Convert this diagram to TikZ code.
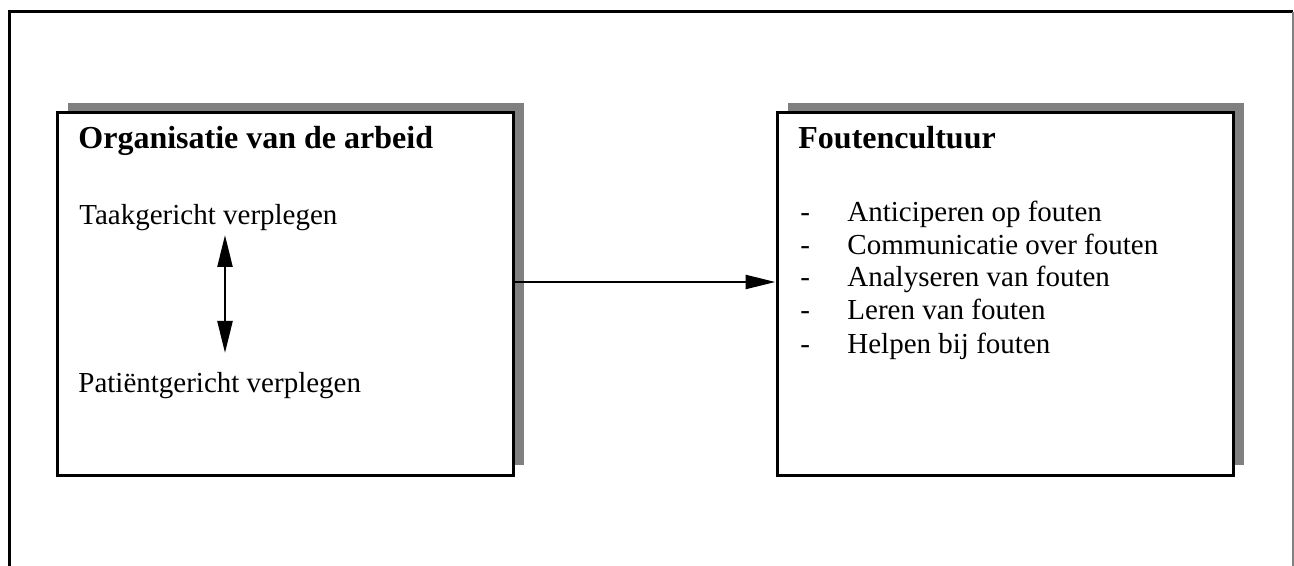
\documentclass[tikz,border=0pt]{standalone}
\usepackage{fontspec}
\setmainfont{Liberation Serif}
\usetikzlibrary{arrows.meta, positioning, shadows}

\tikzset{
  blok/.style={draw, line width=1.5pt, fill=white, inner sep=0pt,
    minimum width=228pt, minimum height=181pt,
    drop shadow={shadow xshift=5.5pt, shadow yshift=5pt, fill=gray, opacity=1}},
  kop/.style={anchor=base west, inner sep=0pt, font=\fontsize{16}{18}\selectfont\bfseries},
  tekst/.style={anchor=base west, inner sep=0pt, font=\fontsize{14.5}{16.5}\selectfont},
  pijl/.style={line width=1.2pt, -{Triangle[length=15pt,width=7pt]}},
  dubbelpijl/.style={line width=1.2pt, {Triangle[length=16pt,width=7.5pt]}-{Triangle[length=16pt,width=7.5pt]}}
}

\begin{document}
\begin{tikzpicture}[x=0.5pt,y=-0.5pt]
\useasboundingbox (0,0) rectangle (1294,566);
% kader
\draw[line width=1.5pt] (9,566) -- (9,12) -- (1293,12);
\draw[gray, line width=0.6pt] (1293,12) -- (1293,566);

% blokken
\node[blok] (arbeid) at (285,294) {};
\node[blok] (cultuur) at (1005,294) {};

% linker blok
\node[kop] (arbeidkop) at (78,149) {Organisatie van de arbeid};
\node[tekst] (taak) at (79,225) {Taakgericht verplegen};
\node[tekst] (patient) at (78,392) {Patiëntgericht verplegen};
\coordinate (boven) at (225,235);
\coordinate (onder) at (225,353);
\draw[dubbelpijl] (boven) -- (onder);

% rechter blok
\node[kop] (cultuurkop) at (798,149) {Foutencultuur};
\node[tekst] (s1) at (800,222) {-};
\node[tekst] (i1) at (847,222) {Anticiperen op fouten};
\node[tekst] (s2) at (800,255) {-};
\node[tekst] (i2) at (847,255) {Communicatie over fouten};
\node[tekst] (s3) at (800,287) {-};
\node[tekst] (i3) at (847,287) {Analyseren van fouten};
\node[tekst] (s4) at (800,320) {-};
\node[tekst] (i4) at (847,320) {Leren van fouten};
\node[tekst] (s5) at (800,353) {-};
\node[tekst] (i5) at (847,353) {Helpen bij fouten};

% verbinding
\draw[pijl] ([yshift=6pt]arbeid.east) -- ([yshift=6pt]cultuur.west);
\end{tikzpicture}
\end{document}
